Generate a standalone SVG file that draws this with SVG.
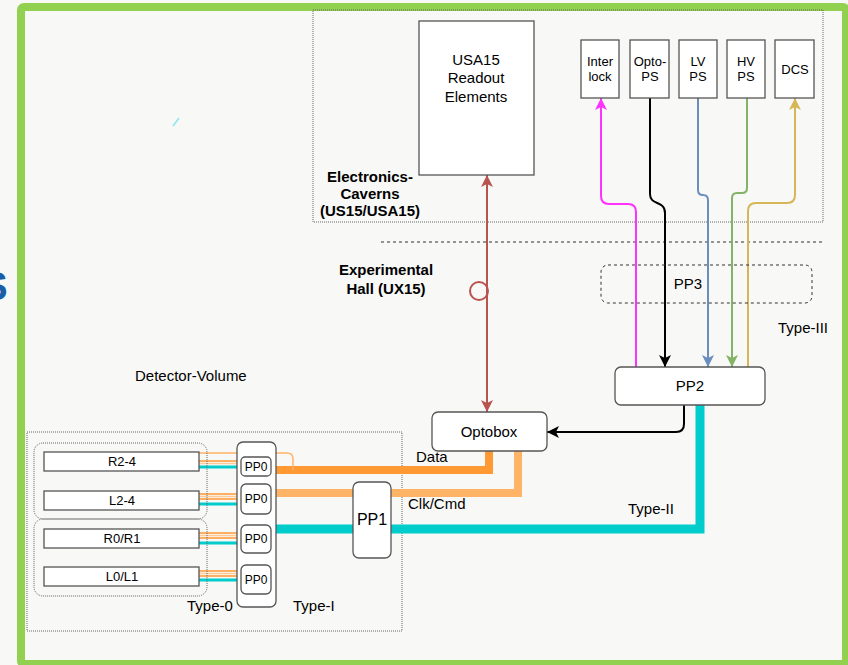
<svg xmlns="http://www.w3.org/2000/svg" width="848" height="665" viewBox="0 0 848 665">
<style>
text{font-family:"Liberation Sans",Arial,Helvetica,sans-serif;fill:#000;}
.t15{font-size:15px;}
.b15{font-size:15px;font-weight:bold;}
.t13{font-size:13px;}
.t12{font-size:12px;}
.box{fill:#fff;stroke:#555;stroke-width:1.3;}
.dot{fill:none;stroke:#666;stroke-width:1;stroke-dasharray:1,1;}
.wire{fill:none;stroke-width:2;}
.thin{fill:none;stroke-width:1.5;}
</style>
<defs>
<marker id="aRed" viewBox="0 0 10 10" refX="10" refY="5" markerWidth="13" markerHeight="12" markerUnits="userSpaceOnUse" orient="auto-start-reverse"><path d="M0,0 L10,5 L0,10 L2.5,5 z" fill="#b85450"/></marker>
<marker id="aMag" viewBox="0 0 10 10" refX="10" refY="5" markerWidth="13" markerHeight="12" markerUnits="userSpaceOnUse" orient="auto"><path d="M0,0 L10,5 L0,10 L2.5,5 z" fill="#ff33ff"/></marker>
<marker id="aBlk" viewBox="0 0 10 10" refX="10" refY="5" markerWidth="13" markerHeight="12" markerUnits="userSpaceOnUse" orient="auto"><path d="M0,0 L10,5 L0,10 L2.5,5 z" fill="#000"/></marker>
<marker id="aBlu" viewBox="0 0 10 10" refX="10" refY="5" markerWidth="13" markerHeight="12" markerUnits="userSpaceOnUse" orient="auto"><path d="M0,0 L10,5 L0,10 L2.5,5 z" fill="#6c8ebf"/></marker>
<marker id="aGrn" viewBox="0 0 10 10" refX="10" refY="5" markerWidth="13" markerHeight="12" markerUnits="userSpaceOnUse" orient="auto"><path d="M0,0 L10,5 L0,10 L2.5,5 z" fill="#82b366"/></marker>
<marker id="aGld" viewBox="0 0 10 10" refX="10" refY="5" markerWidth="13" markerHeight="12" markerUnits="userSpaceOnUse" orient="auto"><path d="M0,0 L10,5 L0,10 L2.5,5 z" fill="#d6b656"/></marker>
</defs>

<rect x="0" y="0" width="848" height="665" fill="#f8f8f6"/>
<text x="-19" y="300" style="font-size:40px;font-weight:bold;fill:#1b5ea8">S</text>
<rect x="21" y="7" width="825" height="657" rx="3" fill="#f8f8f6" stroke="#92d050" stroke-width="8"/>
<line x1="173" y1="126" x2="179" y2="118" stroke="#8ee6ee" stroke-width="1.5"/>

<g id="electronics-caverns">
<rect class="dot" x="313" y="10" width="510" height="212"/>
<text class="b15" text-anchor="middle" x="370" y="182">Electronics-</text>
<text class="b15" text-anchor="middle" x="370" y="199">Caverns</text>
<text class="b15" text-anchor="middle" x="370" y="216">(US15/USA15)</text>
</g>
<line x1="381" y1="242" x2="823" y2="242" stroke="#333" stroke-width="1" stroke-dasharray="3,3"/>
<g id="experimental-hall">
<text class="b15" text-anchor="middle" x="386" y="275">Experimental</text>
<text class="b15" text-anchor="middle" x="386" y="294">Hall (UX15)</text>
</g>
<text class="t15" x="135" y="381">Detector-Volume</text>
<g id="detector-box"><rect class="dot" x="27" y="432" width="375" height="199"/></g>

<g id="connectors">
<line class="wire" x1="487" y1="175" x2="487" y2="412" stroke="#b85450" marker-start="url(#aRed)" marker-end="url(#aRed)"/>
<circle cx="479" cy="291" r="9" fill="none" stroke="#b85450" stroke-width="2"/>
<path class="wire" stroke="#ff33ff" d="M636,367 V212 Q636,204 628,204 H609 Q601,204 601,196 V98" marker-end="url(#aMag)"/>
<path class="wire" stroke="#000" d="M650,98 V194 C650,206 665,200 665,213 V367" marker-end="url(#aBlk)"/>
<path class="wire" stroke="#6c8ebf" d="M698,98 V190 Q698,195 703,195 Q708,195 708,200 V367" marker-end="url(#aBlu)"/>
<path class="wire" stroke="#82b366" d="M747,98 V188 Q747,193 742,193 H737 Q732,193 732,198 V367" marker-end="url(#aGrn)"/>
<path class="wire" stroke="#d6b656" d="M748,367 V211 Q748,203 756,203 H787 Q795,203 795,195 V98" marker-end="url(#aGld)"/>
<path class="wire" stroke="#000" d="M684,405 V424 Q684,432 676,432 H547" marker-end="url(#aBlk)"/>
<path fill="none" stroke="#00cccc" stroke-width="9" d="M700,405 V529 H391"/>
<path fill="none" stroke="#00cccc" stroke-width="9" d="M353,529 H276"/>
<path fill="none" stroke="#ff9933" stroke-width="8" d="M489,451 V470 H276"/>
<path fill="none" stroke="#ffb366" stroke-width="8" d="M518,451 V493 H391"/>
<path fill="none" stroke="#ffb366" stroke-width="8" d="M353,493 H276"/>
<path class="thin" stroke="#ffb366" d="M199,453 H287 Q293,453 293,459 V470"/>
<line class="thin" stroke="#ff9933" x1="199" y1="461" x2="237" y2="461"/>
<line class="thin" stroke="#ffcc99" x1="199" y1="463.5" x2="237" y2="463.5"/>
<line stroke="#00cccc" stroke-width="3" x1="199" y1="467" x2="237" y2="467"/>
<line class="thin" stroke="#ff9933" x1="199" y1="494" x2="237" y2="494"/>
<line class="thin" stroke="#ffcc99" x1="199" y1="496.5" x2="237" y2="496.5"/>
<line class="thin" stroke="#ff9933" x1="199" y1="499" x2="237" y2="499"/>
<line stroke="#00cccc" stroke-width="3" x1="199" y1="504" x2="237" y2="504"/>
<line class="thin" stroke="#ff9933" x1="199" y1="533" x2="237" y2="533"/>
<line class="thin" stroke="#ffcc99" x1="199" y1="535.5" x2="237" y2="535.5"/>
<line class="thin" stroke="#ff9933" x1="199" y1="538" x2="237" y2="538"/>
<line stroke="#00cccc" stroke-width="3" x1="199" y1="543" x2="237" y2="543"/>
<line class="thin" stroke="#ff9933" x1="199" y1="571" x2="237" y2="571"/>
<line class="thin" stroke="#ffcc99" x1="199" y1="573.5" x2="237" y2="573.5"/>
<line class="thin" stroke="#ff9933" x1="199" y1="576" x2="237" y2="576"/>
<line stroke="#00cccc" stroke-width="3" x1="199" y1="580" x2="237" y2="580"/>
</g>

<g id="usa15"><rect class="box" x="419" y="21" width="115" height="154"/>
<text class="t15" text-anchor="middle" x="476" y="65">USA15</text>
<text class="t15" text-anchor="middle" x="476" y="83">Readout</text>
<text class="t15" text-anchor="middle" x="476" y="102">Elements</text></g>
<g id="interlock"><rect class="box" x="581" y="40" width="38" height="58"/>
<text class="t13" text-anchor="middle" x="600" y="66">Inter</text>
<text class="t13" text-anchor="middle" x="600" y="81">lock</text></g>
<g id="opto-ps"><rect class="box" x="630" y="40" width="39" height="58"/>
<text class="t13" text-anchor="middle" x="650" y="66">Opto-</text>
<text class="t13" text-anchor="middle" x="650" y="81">PS</text></g>
<g id="lv-ps"><rect class="box" x="679" y="40" width="38" height="58"/>
<text class="t13" text-anchor="middle" x="698" y="66">LV</text>
<text class="t13" text-anchor="middle" x="698" y="81">PS</text></g>
<g id="hv-ps"><rect class="box" x="727" y="40" width="38" height="58"/>
<text class="t13" text-anchor="middle" x="746" y="66">HV</text>
<text class="t13" text-anchor="middle" x="746" y="81">PS</text></g>
<g id="dcs"><rect class="box" x="775" y="40" width="39" height="58"/>
<text class="t13" text-anchor="middle" x="795" y="74">DCS</text></g>
<g id="pp3"><rect x="601" y="265" width="211" height="38" rx="7" fill="none" stroke="#333" stroke-width="1" stroke-dasharray="3,3"/>
<text class="t15" text-anchor="middle" x="688" y="289">PP3</text></g>
<text class="t15" x="778" y="333">Type-III</text>
<g id="pp2"><rect class="box" x="615" y="367" width="150" height="38" rx="6"/>
<text class="t15" text-anchor="middle" x="690" y="391">PP2</text></g>
<g id="optobox"><rect class="box" x="432" y="412" width="115" height="39" rx="6"/>
<text class="t15" text-anchor="middle" x="489" y="437">Optobox</text></g>
<text class="t15" x="416" y="462">Data</text>
<text class="t15" x="408" y="509">Clk/Cmd</text>
<text class="t15" x="628" y="514">Type-II</text>

<g id="type0-upper"><rect class="dot" x="34" y="443" width="173" height="76" rx="9"/></g>
<g id="type0-lower"><rect class="dot" x="34" y="519" width="173" height="77" rx="9"/></g>
<g id="r2-4"><rect class="box" x="44" y="452" width="155" height="19"/><text class="t13" text-anchor="middle" x="122" y="466">R2-4</text></g>
<g id="l2-4"><rect class="box" x="44" y="491" width="155" height="19"/><text class="t13" text-anchor="middle" x="122" y="505">L2-4</text></g>
<g id="r0r1"><rect class="box" x="44" y="529" width="155" height="19"/><text class="t13" text-anchor="middle" x="122" y="543">R0/R1</text></g>
<g id="l0l1"><rect class="box" x="44" y="567" width="155" height="19"/><text class="t13" text-anchor="middle" x="122" y="581">L0/L1</text></g>
<g id="type1"><rect class="box" x="237" y="442" width="39" height="165" rx="6"/></g>
<g id="pp0-1"><rect class="box" x="241" y="457" width="30" height="19" rx="4"/><text class="t12" text-anchor="middle" x="256" y="471">PP0</text></g>
<g id="pp0-2"><rect class="box" x="241" y="484" width="30" height="30" rx="5"/><text class="t12" text-anchor="middle" x="256" y="503">PP0</text></g>
<g id="pp0-3"><rect class="box" x="241" y="525" width="30" height="28" rx="5"/><text class="t12" text-anchor="middle" x="256" y="543">PP0</text></g>
<g id="pp0-4"><rect class="box" x="241" y="565" width="30" height="29" rx="5"/><text class="t12" text-anchor="middle" x="256" y="584">PP0</text></g>
<g id="pp1"><rect class="box" x="353" y="482" width="38" height="76" rx="6"/><text text-anchor="middle" x="372" y="525" style="font-size:16px">PP1</text></g>
<text class="t15" x="187" y="611">Type-0</text>
<text class="t15" x="293" y="611">Type-I</text>
</svg>
